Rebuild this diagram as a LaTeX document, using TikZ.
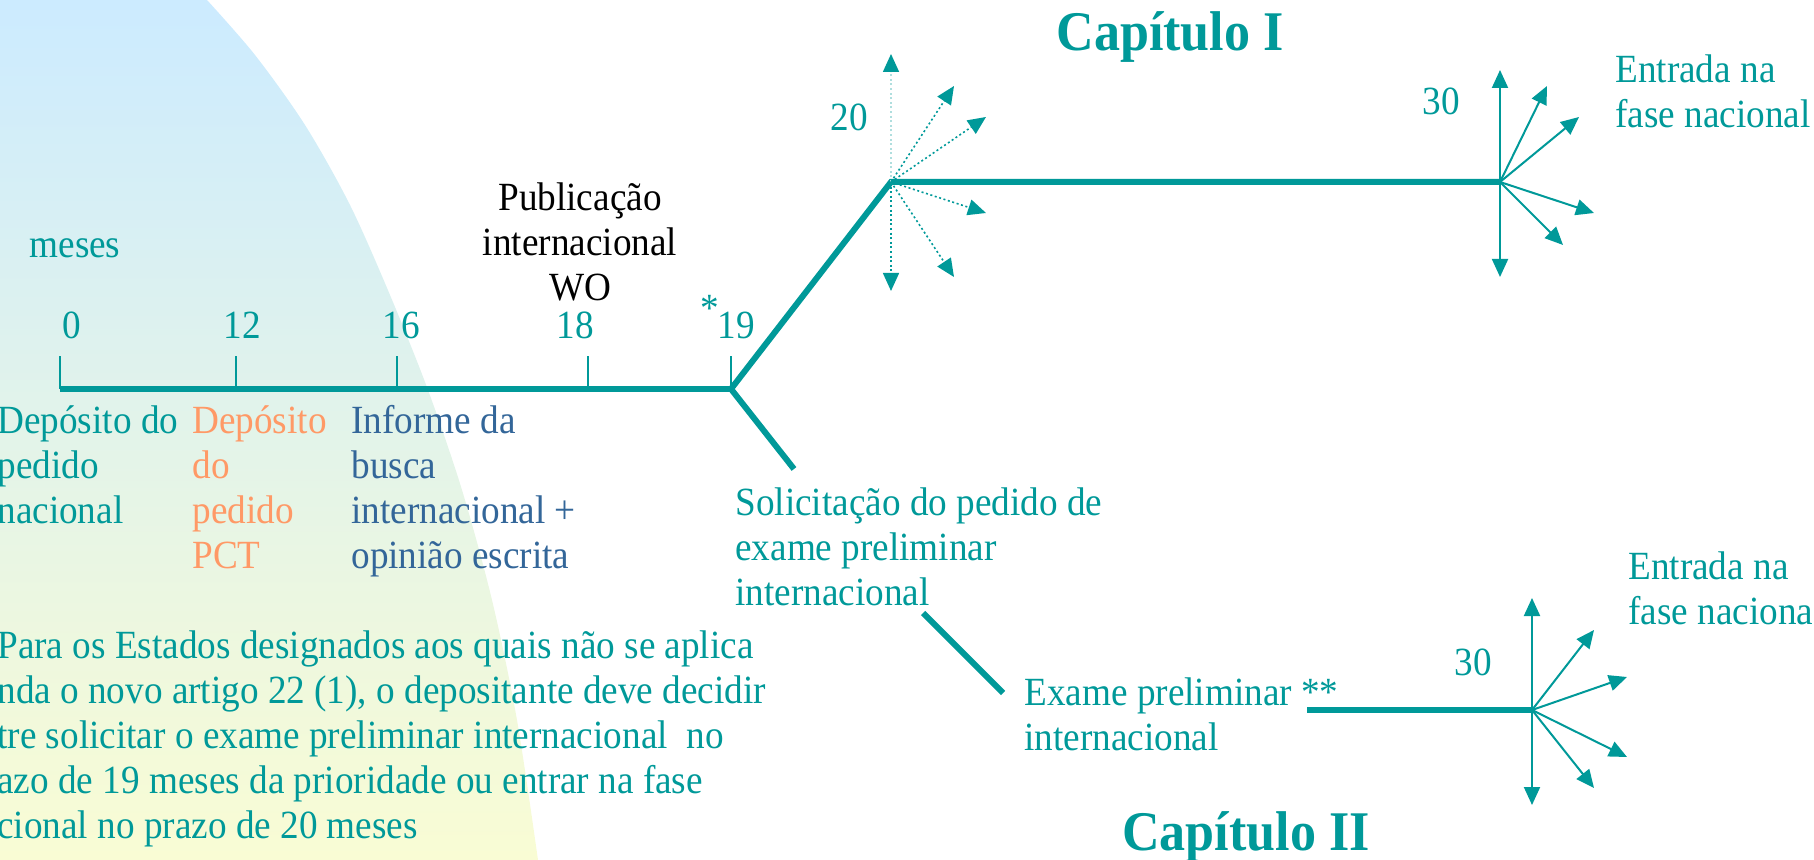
\documentclass[tikz,border=0pt]{standalone}
\usepackage{fontspec}
\setmainfont{Liberation Serif}[FakeStretch=0.93]
\usetikzlibrary{arrows.meta}
\definecolor{pctteal}{RGB}{0,153,153}
\definecolor{pctorange}{RGB}{255,153,102}
\definecolor{pctblue}{RGB}{51,102,153}
\definecolor{faintteal}{RGB}{175,222,222}
\definecolor{bgblue}{RGB}{204,235,255}
\definecolor{bgyellow}{RGB}{249,252,212}
\tikzset{
    %Define standard arrow tip
    >={Triangle[length=9pt,width=8pt]},
    %Define style for texts
    txt/.style={
           inner sep=0pt,
           font=\fontsize{20}{22.5}\selectfont,
           text=pctteal,
           align=left,
           anchor=north west},
    num/.style={
           inner sep=0pt,
           font=\fontsize{20}{22.5}\selectfont,
           text=pctteal,
           anchor=base},
    chapter/.style={
           inner sep=0pt,
           font=\fontsize{28}{32}\selectfont\bfseries,
           text=pctteal,
           anchor=base},
    % Define line styles
    tline/.style={
           draw=pctteal,
           line width=3pt},
    tickmark/.style={
           draw=pctteal,
           line width=0.8pt},
    fan/.style={
           -{Triangle[length=9pt,width=8pt]},
           color=pctteal,
           line width=1pt},
    fandot/.style={
           -{Triangle[length=9pt,width=8pt]},
           color=pctteal,
           line width=0.8pt,
           dash pattern=on 1pt off 1.3pt}
}
\begin{document}
\begin{tikzpicture}[x=0.5pt,y=-0.5pt]
\useasboundingbox (0,0) rectangle (1814,860);

 %background
\shade[top color=bgblue, bottom color=bgyellow] plot[smooth] coordinates {(207,0) (255,55) (305,125) (350,205) (390,295) (428,390) (462,490) (492,600) (517,720) (538,860)} -- (0,860) -- (0,0) -- cycle;

 %time line
\coordinate (t0) at (60,389);
\coordinate (t12) at (236,389);
\coordinate (t16) at (397,389);
\coordinate (t18) at (588,389);
\coordinate (t19) at (731,389);
\draw[tline] (t0) -- (t19);
\draw[tickmark] (t0) -- ++(0,-33);
\draw[tickmark] (t12) -- ++(0,-33);
\draw[tickmark] (t16) -- ++(0,-33);
\draw[tickmark] (t18) -- ++(0,-33);
\draw[tickmark] (t19) -- ++(0,-33);

\node[num] (m0) at (72,339) {0};
\node[num] (m12) at (242,339) {12};
\node[num] (m16) at (401,339) {16};
\node[num] (m18) at (575,339) {18};
\node[num] (m19) at (736,339) {19};
\node[num] (star) at (710,322) {*};
\node[num] (meses) at (75,258) {meses};
\node[txt, text=black, align=center, anchor=north] (pub) at (580,178.5) {\strut Publicação\\internacional\\WO};

 %texts below the time line
\node[txt] (nat) at (-3,401.5) {\strut Depósito do\\pedido\\nacional};
\node[txt, text=pctorange] (pct) at (192,401.5) {\strut Depósito\\do\\pedido\\PCT};
\node[txt, text=pctblue] (isr) at (351,401.5) {\strut Informe da\\busca\\internacional +\\opinião escrita};
\node[txt] (note) at (-3,626.5) {\strut Para os Estados designados aos quais não se aplica\\nda o novo artigo 22 (1), o depositante deve decidir\\tre solicitar o exame preliminar internacional\ \ no\\azo de 19 meses da prioridade ou entrar na fase\\cional no prazo de 20 meses};

 %chapter I
\coordinate (v1) at (891,182);
\coordinate (v2) at (1500,182);
\coordinate (s) at (794,469);
\draw[tline] (s) -- (t19) -- (v1) -- (v2);

\coordinate (u1) at (891,54);
\coordinate (a1) at (954,86);
\coordinate (b1) at (986,117);
\coordinate (c1) at (986,213);
\coordinate (d1) at (954,277);
\coordinate (e1) at (891,291);
\draw[fandot, draw=faintteal, -{Triangle[length=9pt,width=8pt,color=pctteal]}] (v1) -- (u1);
\path[fandot] (v1) edge (a1) edge (b1) edge (c1) edge (d1) edge (e1);

\coordinate (u2) at (1500,70);
\coordinate (a2) at (1547,86);
\coordinate (b2) at (1579,117);
\coordinate (c2) at (1594,213);
\coordinate (d2) at (1563,245);
\coordinate (e2) at (1500,277);
\path[fan] (v2) edge (u2) edge (a2) edge (b2) edge (c2) edge (d2) edge (e2);

\node[num] (n20) at (849,131) {20};
\node[num] (n30a) at (1441,115) {30};
\node[txt] (entry1) at (1615,50.5) {\strut Entrada na\\fase nacional};
\node[chapter] (ch1) at (1170,51) {Capítulo I};

 %chapter II
\node[txt] (dem) at (735,483.5) {\strut Solicitação do pedido de\\exame preliminar\\internacional};
\node[txt] (ipe) at (1024,673.5) {\strut Exame preliminar **\\internacional};
\coordinate (l1) at (923,613);
\coordinate (l2) at (1003,693);
\draw[tline] (l1) -- (l2);

\coordinate (k) at (1307,710);
\coordinate (v3) at (1532,710);
\draw[tline] (k) -- (v3);

\coordinate (u3) at (1532,598);
\coordinate (a3) at (1594,630);
\coordinate (b3) at (1627,677);
\coordinate (c3) at (1627,757);
\coordinate (d3) at (1594,788);
\coordinate (e3) at (1532,805);
\path[fan] (v3) edge (u3) edge (a3) edge (b3) edge (c3) edge (d3) edge (e3);

\node[num] (n30b) at (1473,675) {30};
\node[txt] (entry2) at (1628,547.5) {\strut Entrada na\\fase naciona};
\node[chapter] (ch2) at (1246,850) {Capítulo II};

\end{tikzpicture}
\end{document}
